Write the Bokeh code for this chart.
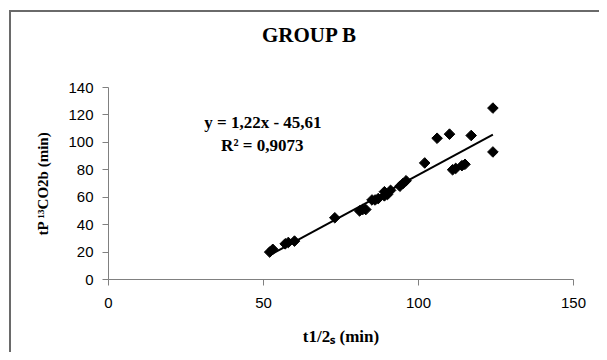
import numpy as np
from bokeh.plotting import figure
from bokeh.models import Range1d, FixedTicker, Label, Div
from bokeh.layouts import column
from bokeh.embed import file_html
from bokeh.resources import INLINE

# ---- data ----
t_half_s = [52, 53, 57, 58, 60, 73, 81, 82, 83, 85, 86, 87, 89, 89, 90, 91,
            94, 95, 96, 102, 106, 110, 111, 112, 114, 115, 117, 124, 124]
tp_co2b = [20, 22, 26, 27, 28, 45, 50, 51, 51, 58, 58, 59, 61, 64, 62, 65,
           68, 70, 72, 85, 103, 106, 80, 81, 83, 84, 105, 125, 93]
fit_slope = 1.22
fit_intercept = -45.61
x_ticks = [0, 50, 100, 150]
y_ticks = [0, 20, 40, 60, 80, 100, 120, 140]
title_text = "GROUP B"
eq_text = "y = 1,22x - 45,61"
r2_text = "R\u00b2 = 0,9073"
x_label = "t1/2\u209b (min)"
y_label = "tP \u00b9\u00b3CO2b (min)"

SERIF = "Liberation Serif"
SANS = "Liberation Sans"

title_div = Div(
    text=('<div style="position:relative; left:262px; top:23px; '
          "font-family:'Liberation Serif'; font-weight:bold; font-size:21px; "
          'line-height:24px; white-space:nowrap; color:black;">' + title_text + '</div>'),
    width=599, height=47, margin=0)

p = figure(width=599, height=305, output_backend="svg", toolbar_location=None,
           x_range=Range1d(0, 150), y_range=Range1d(0, 140),
           min_border_left=108, min_border_right=26,
           min_border_top=40, min_border_bottom=73, margin=0)
p.outline_line_color = None
p.xgrid.visible = False
p.ygrid.visible = False
p.background_fill_color = None
p.border_fill_color = None
p.title.visible = False

for ax, ticks in ((p.xaxis[0], x_ticks), (p.yaxis[0], y_ticks)):
    ax.ticker = FixedTicker(ticks=ticks)
    ax.axis_line_color = "#808080"
    ax.axis_line_width = 1
    ax.major_tick_line_color = "#808080"
    ax.major_tick_out = 6
    ax.major_tick_in = 0
    ax.minor_tick_line_color = None
    ax.major_label_text_font = SANS
    ax.major_label_text_font_size = "15px"
    ax.major_label_text_color = "black"
    ax.axis_label_text_font = SERIF
    ax.axis_label_text_font_style = "bold"
    ax.axis_label_text_color = "black"
p.xaxis.major_label_standoff = 12
p.yaxis.major_label_standoff = 9
p.xaxis.axis_label = x_label
p.xaxis.axis_label_text_font_size = "17px"
p.xaxis.axis_label_standoff = 16
p.yaxis.axis_label = y_label
p.yaxis.axis_label_text_font_size = "15px"
p.yaxis.axis_label_standoff = 14

# regression line
xs = np.array([min(t_half_s), max(t_half_s)], dtype=float)
p.line(xs, fit_slope * xs + fit_intercept, line_color="black", line_width=2)

# points
p.scatter(t_half_s, tp_co2b, marker="square", angle=np.pi / 4, size=7.5,
          fill_color="black", line_color="black")

def lab(text, x, y, size, **kw):
    p.add_layout(Label(text=text, x=x, y=y, text_font=SERIF, text_font_style="bold",
                       text_font_size=size, text_color="black", **kw))

lab(eq_text, 49.8, 114.4, "17px", text_align="center", text_baseline="middle")
lab(r2_text, 49.6, 97.4, "17px", text_align="center", text_baseline="middle")

layout = column(title_div, p, spacing=0)
layout.stylesheets = [":host { box-shadow: inset 9px 10px 0 0 #ffffff, inset 11px 12px 0 0 #6a6a6a; }"]

open("out.html", "w").write(file_html(layout, INLINE))
